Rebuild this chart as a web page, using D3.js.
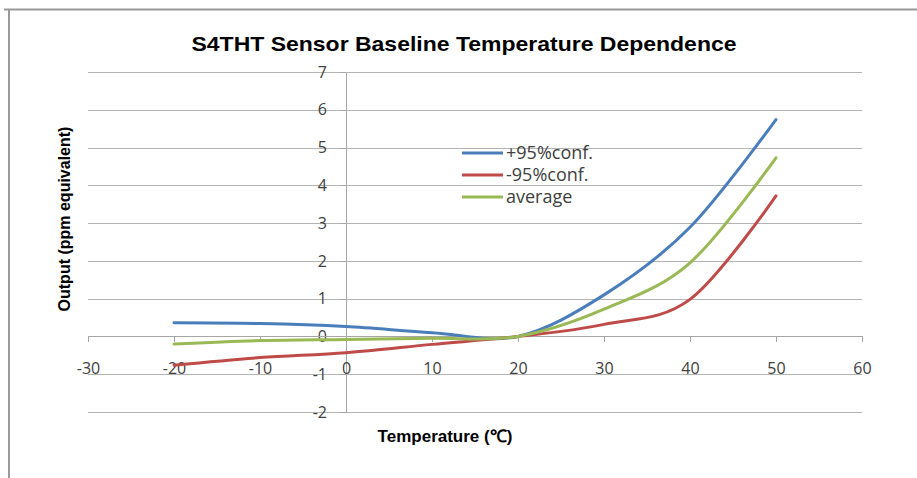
<!DOCTYPE html>
<meta charset="utf-8">
<style>
body { margin: 0; background: #fff; }
.grid line { stroke: #b4b4b4; stroke-width: 1px; }
.axis path, .axis line { stroke: #a6a6a6; stroke-width: 1px; shape-rendering: crispEdges; }
.axis text { font-family: "Open Sans", sans-serif; font-size: 16px; fill: #404040; }
.line { fill: none; stroke-width: 3px; stroke-linecap: round; }
</style>
<body>
<script src="https://d3js.org/d3.v7.min.js"></script>
<script>

// data
var temps = [-20, -10, 0, 10, 20, 30, 40, 50];
var upper = [0.36, 0.34, 0.26, 0.10, 0.0, 1.10, 2.89, 5.74];
var lower = [-0.76, -0.56, -0.43, -0.21, 0.0, 0.32, 0.98, 3.72];
var average = [-0.20, -0.11, -0.08, -0.05, 0.0, 0.72, 1.95, 4.73];

var seriesNames = ["+95%conf.", "-95%conf.", "average"];
var seriesColors = ["#4a7ebb", "#be4b48", "#98b954"];
var xTicks = [-30, -20, -10, 0, 10, 20, 30, 40, 50, 60];
var yTicks = [-2, -1, 0, 1, 2, 3, 4, 5, 6, 7];

var W = 917, H = 478;

var x = d3.scaleLinear().domain([-30, 60]).range([88, 862]);
var y = d3.scaleLinear().domain([-2, 7]).range([412, 72]);

// plain hyphen for negatives, like the original
var fmt = function(d) { return String(d); };

var svg = d3.select("body").append("svg")
    .attr("width", W)
    .attr("height", H);

// frame of the chart area
svg.append("line").attr("x1", 4).attr("x2", W).attr("y1", 9.5).attr("y2", 9.5)
    .style("stroke", "#999").style("stroke-width", 2);
svg.append("line").attr("x1", 9).attr("x2", 9).attr("y1", 9).attr("y2", H)
    .style("stroke", "#999").style("stroke-width", 2);

// title
svg.append("text")
    .attr("x", 464)
    .attr("y", 51)
    .attr("text-anchor", "middle")
    .style("font-family", "'Liberation Sans', Arial, sans-serif")
    .style("font-weight", "bold")
    .style("font-size", "21px")
    .attr("textLength", 545)
    .attr("lengthAdjust", "spacingAndGlyphs")
    .text("S4THT Sensor Baseline Temperature Dependence");

// horizontal gridlines
svg.append("g").attr("class", "grid")
  .selectAll("line")
  .data(yTicks)
  .enter().append("line")
    .attr("x1", x(-30)).attr("x2", x(60))
    .attr("y1", function(d) { return Math.round(y(d)) + 0.5; })
    .attr("y2", function(d) { return Math.round(y(d)) + 0.5; });

// y axis sitting at x = 0
var yAxis = svg.append("g").attr("class", "axis")
    .attr("transform", "translate(" + Math.round(x(0)) + ",0)")
    .call(d3.axisLeft(y).tickValues(yTicks).tickFormat(fmt)
          .tickSize(6).tickPadding(13).tickSizeOuter(0));

// x axis sitting at y = 0, labels pushed down like the original
var xAxis = svg.append("g").attr("class", "axis")
    .attr("transform", "translate(0," + Math.round(y(0)) + ")")
    .call(d3.axisBottom(x).tickValues(xTicks).tickFormat(fmt)
          .tickSize(6).tickSizeOuter(0));
xAxis.selectAll("text").attr("y", 369 - y(0)).attr("dy", "0.35em");
xAxis.select(".domain").remove();
xAxis.append("line").attr("x1", x(-30)).attr("x2", x(60)).attr("y1", 0.5).attr("y2", 0.5);

// curves, Excel style smoothing
var valueline = d3.line()
    .x(function(d) { return x(d[0]); })
    .y(function(d) { return y(d[1]); })
    .curve(d3.curveCardinal.tension(0));

[upper, lower, average].forEach(function(vals, i) {
  svg.append("path")
      .datum(temps.map(function(t, j) { return [t, vals[j]]; }))
      .attr("class", "line")
      .style("stroke", seriesColors[i])
      .attr("d", valueline);
});

// legend
var legend = svg.append("g").attr("transform", "translate(462,153)");
seriesNames.forEach(function(name, i) {
  var row = legend.append("g").attr("transform", "translate(0," + (i * 22) + ")");
  row.append("line").attr("x1", 0).attr("x2", 41).attr("y1", 0).attr("y2", 0)
      .style("stroke", seriesColors[i]).style("stroke-width", 3);
  row.append("text")
      .attr("x", 44).attr("y", 0).attr("dy", "0.35em")
      .style("font-family", "'Open Sans', sans-serif")
      .style("font-size", "18px")
      .style("fill", "#404040")
      .text(name);
});

// axis titles
svg.append("text")
    .attr("x", 445)
    .attr("y", 442)
    .attr("text-anchor", "middle")
    .style("font-family", "'Liberation Sans', Arial, sans-serif")
    .style("font-weight", "bold")
    .style("font-size", "17px")
    .text("Temperature (\u2103)");

svg.append("text")
    .attr("transform", "translate(70,219) rotate(-90)")
    .attr("text-anchor", "middle")
    .style("font-family", "'Liberation Sans', Arial, sans-serif")
    .style("font-weight", "bold")
    .style("font-size", "16px")
    .text("Output (ppm equivalent)");

</script>
</body>
